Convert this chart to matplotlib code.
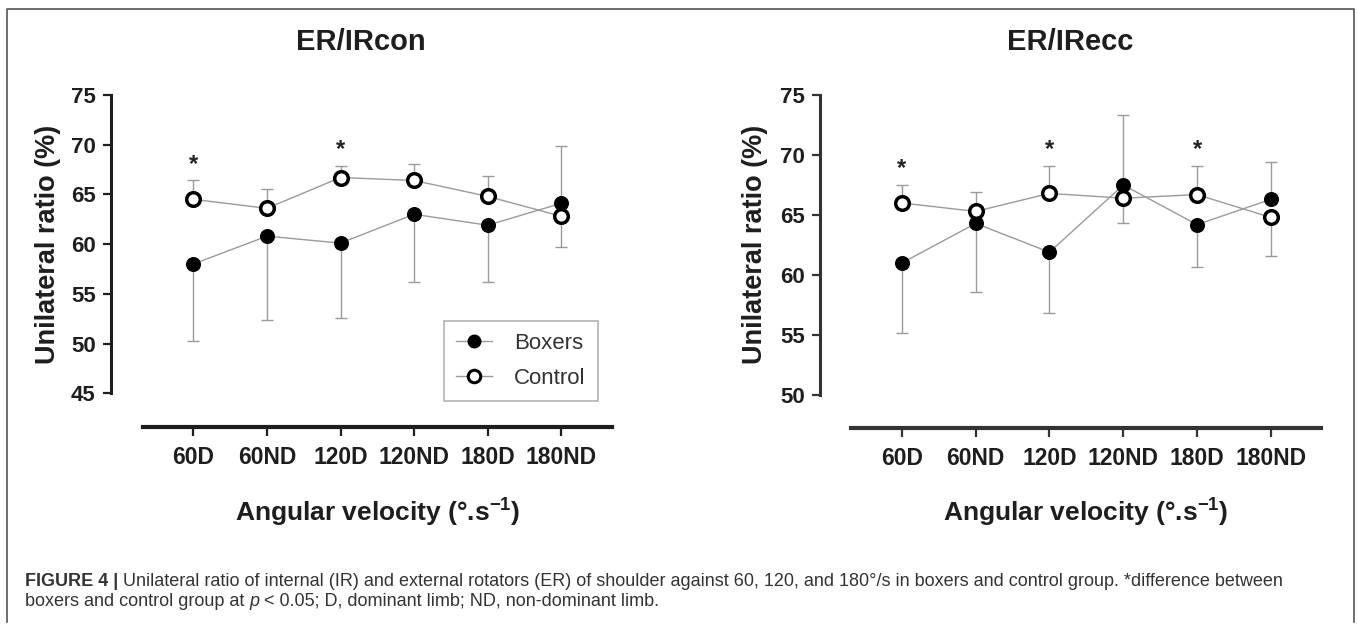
import matplotlib
matplotlib.use('Agg')
import matplotlib.pyplot as plt
from matplotlib.lines import Line2D

plt.rcParams['font.family'] = ['Liberation Sans', 'DejaVu Sans']
plt.rcParams['mathtext.fontset'] = 'custom'
plt.rcParams['mathtext.rm'] = 'Liberation Sans'
plt.rcParams['mathtext.bf'] = 'Liberation Sans:bold'
plt.rcParams['mathtext.it'] = 'Liberation Sans:italic'

# ---------------- data ----------------
categories = ['60D', '60ND', '120D', '120ND', '180D', '180ND']

con_boxers_mean = [58.0, 60.8, 60.1, 63.0, 61.9, 64.1]
con_boxers_sd = [7.7, 8.4, 7.5, 6.8, 5.7, 5.8]
con_control_mean = [64.5, 63.6, 66.7, 66.4, 64.8, 62.8]
con_control_sd = [1.9, 1.9, 1.2, 1.7, 2.1, 3.1]
con_signif = [0, 2]
con_yticks = [45, 50, 55, 60, 65, 70, 75]

ecc_boxers_mean = [61.0, 64.3, 61.9, 67.5, 64.2, 66.3]
ecc_boxers_sd = [5.8, 5.7, 5.1, 5.8, 3.5, 3.1]
ecc_control_mean = [66.0, 65.3, 66.8, 66.4, 66.7, 64.8]
ecc_control_sd = [1.5, 1.6, 2.3, 2.1, 2.4, 3.2]
ecc_signif = [0, 2, 4]
ecc_yticks = [50, 55, 60, 65, 70, 75]

titles = ['ER/IRcon', 'ER/IRecc']
series_names = ['Boxers', 'Control']

W, H = 1358, 625
fig = plt.figure(figsize=(W / 100, H / 100), dpi=100)

def fx(px):
    return px / W

def fy(py):
    return 1 - py / H

GRAY = '#9a9a9a'
INK = '#1e1e1e'


def one_sided(mean, sd, other):
    lo, hi = [], []
    for m, s, o in zip(mean, sd, other):
        if m >= o:
            lo.append(0); hi.append(s)
        else:
            lo.append(s); hi.append(0)
    return [lo, hi]


def panel(rect, xlim, xbounds, ylim, yticks, bm, bsd, cm, csd, signif, spine_col):
    ax = fig.add_axes(rect)
    x = list(range(len(categories)))
    beb = one_sided(bm, bsd, cm)
    ceb = one_sided(cm, csd, bm)
    ax.errorbar(x, bm, yerr=beb, fmt='none', ecolor=GRAY, elinewidth=1.0,
                capsize=4.5, capthick=1.0, zorder=2, clip_on=False)
    ax.errorbar(x, cm, yerr=ceb, fmt='none', ecolor=GRAY, elinewidth=1.0,
                capsize=4.5, capthick=1.0, zorder=2, clip_on=False)
    ax.plot(x, bm, color=GRAY, lw=1.0, marker='o', markersize=9.8,
            markerfacecolor='black', markeredgecolor='black', zorder=3,
            clip_on=False)
    ax.plot(x, cm, color=GRAY, lw=1.0, marker='o', markersize=9.8,
            markerfacecolor='white', markeredgecolor='black',
            markeredgewidth=2.5, zorder=4, clip_on=False)
    for i in signif:
        top = max(bm[i] + beb[1][i], cm[i] + ceb[1][i])
        ax.annotate('*', xy=(i, top), xytext=(0, 17 - 0.58 * 17),
                    textcoords='offset points', ha='center', va='baseline',
                    fontsize=17, fontweight='bold', color='#222222')
    ax.set_xlim(*xlim)
    ax.set_ylim(*ylim)
    ax.set_xticks(x)
    ax.set_xticklabels(categories)
    ax.set_yticks(yticks)
    for s in ['top', 'right']:
        ax.spines[s].set_visible(False)
    ax.spines['left'].set_bounds(yticks[0], yticks[-1])
    ax.spines['bottom'].set_bounds(*xbounds)
    ax.spines['left'].set_linewidth(2.2)
    ax.spines['bottom'].set_linewidth(3.0)
    ax.spines['left'].set_color(spine_col)
    ax.spines['bottom'].set_color(spine_col)
    ax.tick_params(axis='y', length=6, width=1.6, pad=5, colors=spine_col,
                   labelsize=16, labelcolor=INK)
    ax.tick_params(axis='x', length=6.5, width=1.6, pad=7, colors=spine_col,
                   labelsize=16.5, labelcolor=INK)
    for lab in ax.get_xticklabels() + ax.get_yticklabels():
        lab.set_fontweight('bold')
    ax.patch.set_alpha(0)
    return ax

ax1 = panel([fx(111), fy(427), fx(612) - fx(111), fy(95) - fy(427)],
            (-1.12, 5.69), (-0.68, 5.69), (41.6, 75), con_yticks,
            con_boxers_mean, con_boxers_sd, con_control_mean, con_control_sd,
            con_signif, '#1e1e1e')
ax2 = panel([fx(820), fy(428), fx(1321) - fx(820), fy(95) - fy(428)],
            (-1.11, 5.68), (-0.69, 5.68), (47.25, 75), ecc_yticks,
            ecc_boxers_mean, ecc_boxers_sd, ecc_control_mean, ecc_control_sd,
            ecc_signif, '#333333')

# titles and labels
for cx, t in zip([361, 1070], titles):
    fig.text(fx(cx), fy(42), t, ha='center', va='center', fontsize=21,
             fontweight='bold', color=INK)
for cx in [48, 755]:
    fig.text(fx(cx), fy(244), 'Unilateral ratio (%)', rotation=90,
             ha='center', va='center', fontsize=19.5, fontweight='bold',
             color=INK)
for cx in [378, 1086]:
    fig.text(fx(cx), fy(513), r'Angular velocity (°.s$^{\mathbf{-1}}$)',
             ha='center', va='center', fontsize=19, fontweight='bold',
             color=INK)

# legend
handles = [Line2D([], [], color=GRAY, lw=1.0, marker='o', markersize=9,
                  markerfacecolor='black', markeredgecolor='black'),
           Line2D([], [], color=GRAY, lw=1.0, marker='o', markersize=9,
                  markerfacecolor='white', markeredgecolor='black',
                  markeredgewidth=2.2)]
leg = fig.legend(handles, series_names, loc='upper left',
                 bbox_to_anchor=(fx(444), fy(321)), bbox_transform=fig.transFigure,
                 borderaxespad=0, fancybox=False, frameon=True, fontsize=16,
                 handlelength=1.6, handletextpad=1.0, labelspacing=0.6,
                 borderpad=0.55)
leg.get_frame().set_edgecolor('#a0a0a0')
leg.get_frame().set_linewidth(1.2)
for t in leg.get_texts():
    t.set_color('#333333')

# border
fig.add_artist(Line2D([fx(7), fx(7), fx(1354), fx(1354)],
                      [fy(622), fy(9), fy(9), fy(622)],
                      transform=fig.transFigure, color='#555555', lw=1.2))

# caption
cap_fs = 13
CAPC = '#333333'
t1 = fig.text(fx(25), fy(582), 'FIGURE 4 |', fontsize=cap_fs, fontweight='bold',
              color=CAPC, va='center', ha='left')
fig.canvas.draw()
t1b = plt.annotate(' Unilateral ratio of internal (IR) and external rotators (ER) of '
                   'shoulder against 60, 120, and 180°/s in boxers and control group. '
                   '*difference between', xy=(1, 0.5), xycoords=t1, va='center',
                   ha='left', fontsize=cap_fs, color=CAPC, annotation_clip=False)
t2 = fig.text(fx(25), fy(601), 'boxers and control group at ', fontsize=cap_fs,
              color=CAPC, va='center', ha='left')
t2b = plt.annotate('p', xy=(1, 0.5), xycoords=t2, va='center', ha='left',
                   fontsize=cap_fs, color=CAPC, style='italic',
                   annotation_clip=False)
t2c = plt.annotate(' < 0.05; D, dominant limb; ND, non-dominant limb.', xy=(1, 0.5),
                   xycoords=t2b, va='center', ha='left', fontsize=cap_fs,
                   color=CAPC, annotation_clip=False)

fig.savefig('out.png', dpi=100)
